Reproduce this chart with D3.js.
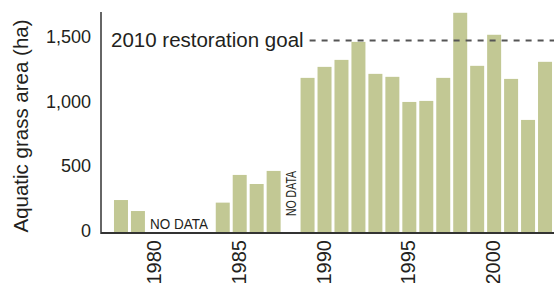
<!DOCTYPE html>
<html>
<head>
<meta charset="utf-8">
<script src="https://cdn.jsdelivr.net/npm/d3@7"></script>
<style>
  body { margin: 0; background: #fff; }
  svg { display: block; font-family: "Liberation Sans", Arial, sans-serif; }
</style>
</head>
<body>
<svg width="554" height="283"></svg>
<script>
// values (null = no survey that year)
var years = [1978,1979,1980,1981,1982,1983,1984,1985,1986,1987,1988,1989,1990,
             1991,1992,1993,1994,1995,1996,1997,1998,1999,2000,2001,2002,2003];
var area  = [247,162,null,null,null,null,227,441,371,472,null,1191,1276,
             1330,1469,1222,1199,1005,1013,1191,1694,1284,1524,1183,866,1315];
var yTicks = [0,500,1000,1500];
var xTicks = [1980,1985,1990,1995,2000];
var goal = 1480;
var goalLabel = "2010 restoration goal";
var noData = [[1980,1983],[1988,1988]];

var svg = d3.select("svg");
var ink = "#231f20";

var x = d3.scaleBand()
    .domain(years)
    .range([112.5,553.5])
    .paddingInner(0.175)
    .paddingOuter(0.0875);

var y = d3.scaleLinear()
    .domain([0,1700])
    .range([232,12]);

var data = years.map(function(d,i){ return {year:d, value:area[i]}; })
    .filter(function(d){ return d.value != null; });

svg.selectAll(".bar")
    .data(data)
    .enter().append("rect")
    .attr("class","bar")
    .attr("x",d=>x(d.year))
    .attr("width",x.bandwidth())
    .attr("y",d=>y(d.value))
    .attr("height",d=>y(0)-y(d.value))
    .attr("fill","#c2c894");

// axes
var yaxis = d3.axisLeft(y)
    .tickValues(yTicks)
    .tickSize(0)
    .tickPadding(10)
    .tickFormat(d3.format(","));

var gy = svg.append("g")
    .attr("transform","translate(101,0)")
    .call(yaxis);
gy.select(".domain").attr("stroke","#333").attr("stroke-width",1.5)
    .attr("d","M0,"+y(1700)+"V"+(y(0)+2));
gy.selectAll("text").attr("font-size",18).attr("fill",ink)
    .attr("font-family","Liberation Sans, Arial, sans-serif")
    .attr("dy","0.25em");

var xaxis = d3.axisBottom(x)
    .tickValues(xTicks)
    .tickSize(0)
    .tickPadding(0);

var gx = svg.append("g")
    .attr("transform","translate(0,"+(y(0)+1)+")")
    .call(xaxis);
gx.select(".domain").attr("stroke","#333").attr("stroke-width",2)
    .attr("d","M101,0H554");
gx.selectAll("text")
    .attr("font-size",20).attr("fill",ink)
    .attr("font-family","Liberation Sans, Arial, sans-serif")
    .attr("transform","rotate(-90)")
    .attr("text-anchor","end")
    .attr("x",-7).attr("y",-1)
    .attr("dy","0.35em");

svg.append("text")
    .attr("transform","translate(28,"+((y(0)+y(1700))/2+4)+") rotate(-90)")
    .attr("text-anchor","middle")
    .attr("font-size",20.5)
    .attr("fill",ink)
    .text("Aquatic grass area (ha)");

// no-data notes
var nd1 = noData[0], nd2 = noData[1];
svg.append("text")
    .attr("x",x(nd1[0])+2)
    .attr("y",y(0)-3)
    .attr("font-size",14)
    .attr("textLength",58)
    .attr("lengthAdjust","spacingAndGlyphs")
    .attr("fill",ink)
    .text("NO DATA");

svg.append("text")
    .attr("transform","translate("+(x(nd2[0])+x.bandwidth()/2+5)+","+(y(0)-16)+") rotate(-90)")
    .attr("font-size",15)
    .attr("textLength",45)
    .attr("lengthAdjust","spacingAndGlyphs")
    .attr("fill",ink)
    .text("NO DATA");

// goal line
var gl = svg.append("text")
    .attr("x",111)
    .attr("y",y(goal))
    .attr("dy","0.3em")
    .attr("font-size",20.5)
    .attr("fill",ink)
    .text(goalLabel);

var lineStart = 111 + gl.node().getComputedTextLength() + 6;
svg.append("line")
    .attr("x1",lineStart).attr("x2",554)
    .attr("y1",y(goal)).attr("y2",y(goal))
    .attr("stroke","#555")
    .attr("stroke-width",2)
    .attr("stroke-dasharray","6,6");
</script>
</body>
</html>
